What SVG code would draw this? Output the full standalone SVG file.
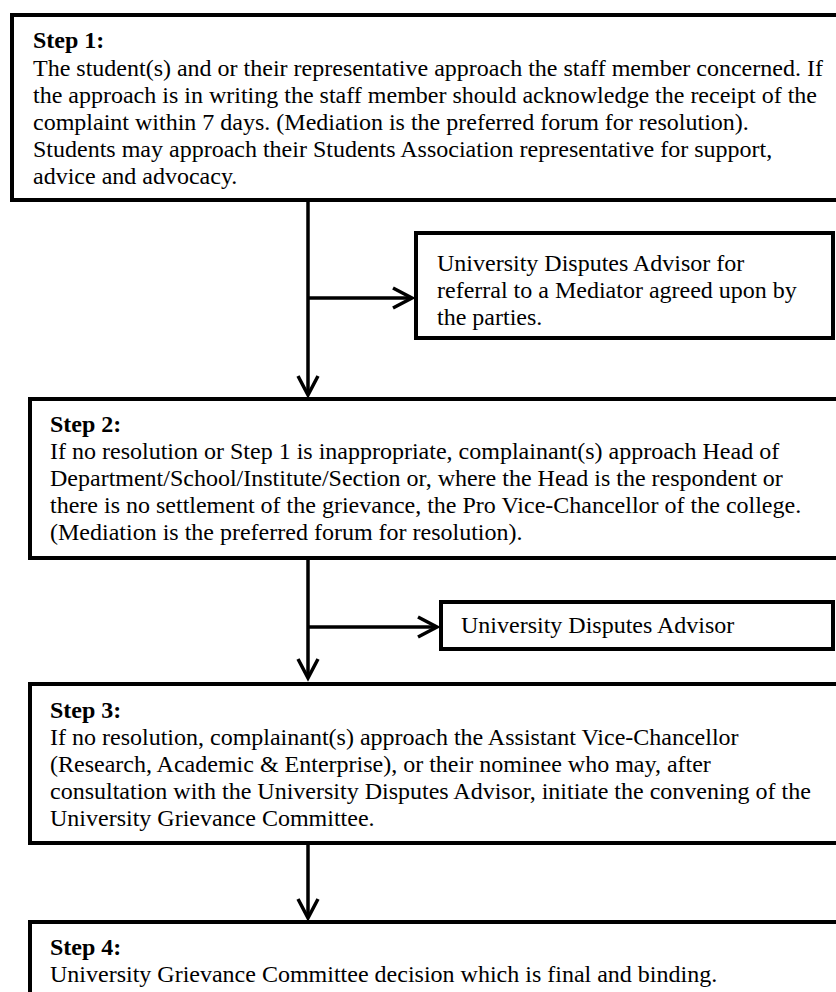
<svg xmlns="http://www.w3.org/2000/svg" width="836" height="992" viewBox="0 0 836 992">
<style>
  .box { fill: #fff; stroke: #000; stroke-width: 4; }
  .t { font-family: "Liberation Serif", "Times New Roman", serif; font-size: 24px; fill: #000; }
  .b { font-weight: bold; }
  .con { fill: none; stroke: #000; stroke-width: 3.5; }
</style>
<defs>
  <marker id="arr" markerUnits="userSpaceOnUse" viewBox="-24 -14 28 28" refX="0" refY="0" markerWidth="28" markerHeight="28" orient="auto">
    <path d="M-19,-10 L0,0 L-19,10" fill="none" stroke="#000" stroke-width="3.5" stroke-linejoin="miter"/>
  </marker>
</defs>
<rect width="836" height="992" fill="#fff"/>

<g id="connectors">
  <path class="con" d="M308,202 V395" marker-end="url(#arr)"/>
  <path class="con" d="M308,298 H412" marker-end="url(#arr)"/>
  <path class="con" d="M308,560 V678" marker-end="url(#arr)"/>
  <path class="con" d="M308,627 H437" marker-end="url(#arr)"/>
  <path class="con" d="M308,845 V918" marker-end="url(#arr)"/>
</g>

<g id="step1">
  <rect class="box" x="12" y="15" width="840" height="185"/>
  <text class="t b" x="33" y="48">Step 1:</text>
  <text class="t" x="33" y="76">The student(s) and or their representative approach the staff member concerned. If</text>
  <text class="t" x="33" y="103">the approach is in writing the staff member should acknowledge the receipt of the</text>
  <text class="t" x="33" y="130">complaint within 7 days. (Mediation is the preferred forum for resolution).</text>
  <text class="t" x="33" y="157">Students may approach their Students Association representative for support,</text>
  <text class="t" x="33" y="184">advice and advocacy.</text>
</g>

<g id="uda1">
  <rect class="box" x="416" y="233" width="417" height="105"/>
  <text class="t" x="437" y="271">University Disputes Advisor for</text>
  <text class="t" x="437" y="298">referral to a Mediator agreed upon by</text>
  <text class="t" x="437" y="325">the parties.</text>
</g>

<g id="step2">
  <rect class="box" x="30" y="399" width="830" height="159"/>
  <text class="t b" x="50" y="432">Step 2:</text>
  <text class="t" x="50" y="459">If no resolution or Step 1 is inappropriate, complainant(s) approach Head of</text>
  <text class="t" x="50" y="486">Department/School/Institute/Section or, where the Head is the respondent or</text>
  <text class="t" x="50" y="513">there is no settlement of the grievance, the Pro Vice-Chancellor of the college.</text>
  <text class="t" x="50" y="540">(Mediation is the preferred forum for resolution).</text>
</g>

<g id="uda2">
  <rect class="box" x="441" y="602" width="392" height="47"/>
  <text class="t" x="461" y="633">University Disputes Advisor</text>
</g>

<g id="step3">
  <rect class="box" x="30" y="684" width="830" height="159"/>
  <text class="t b" x="50" y="718">Step 3:</text>
  <text class="t" x="50" y="745">If no resolution, complainant(s) approach the Assistant Vice-Chancellor</text>
  <text class="t" x="50" y="772">(Research, Academic &amp; Enterprise), or their nominee who may, after</text>
  <text class="t" x="50" y="799">consultation with the University Disputes Advisor, initiate the convening of the</text>
  <text class="t" x="50" y="826">University Grievance Committee.</text>
</g>

<g id="step4">
  <rect class="box" x="30" y="922" width="830" height="100"/>
  <text class="t b" x="50" y="955">Step 4:</text>
  <text class="t" x="50" y="982">University Grievance Committee decision which is final and binding.</text>
</g>
</svg>
